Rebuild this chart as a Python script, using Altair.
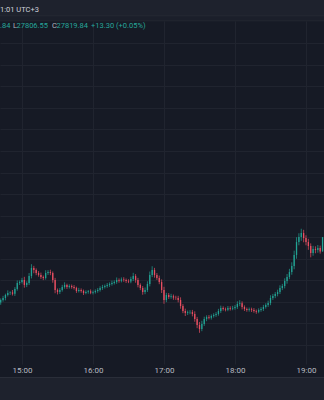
import altair as alt
import pandas as pd

# ---- data (2-minute candles) ----
closes = [
    27761.4, 27763.3, 27766.1, 27767.9, 27768.5, 27767.2, 27771.6, 27777.2, 27778.1, 27780.0,
    27775.4, 27777.2, 27783.7, 27791.2, 27789.3, 27786.5, 27784.7, 27782.8, 27781.9, 27786.5,
    27787.4, 27786.5, 27780.0, 27770.7, 27768.8, 27770.7, 27773.5, 27775.4, 27773.5, 27774.4,
    27773.5, 27772.6, 27769.8, 27770.7, 27769.8, 27767.9, 27768.8, 27769.5, 27768.2, 27768.8,
    27769.8, 27770.7, 27772.6, 27773.5, 27774.4, 27775.4, 27776.3, 27777.2, 27778.1, 27780.0,
    27779.3, 27780.6, 27780.0, 27779.1, 27778.6, 27780.9, 27783.7, 27780.0, 27775.4, 27772.6,
    27768.8, 27770.7, 27776.3, 27784.7, 27789.3, 27784.7, 27781.9, 27778.1, 27770.7, 27761.4,
    27766.1, 27764.2, 27765.0, 27763.6, 27763.3, 27761.4, 27755.8, 27751.2, 27749.3, 27750.0,
    27750.2, 27748.4, 27743.7, 27738.2, 27734.4, 27739.1, 27743.7, 27745.6, 27745.0, 27746.5,
    27747.5, 27748.4, 27751.2, 27754.0, 27753.0, 27752.4, 27754.0, 27753.4, 27754.0, 27754.9,
    27757.7, 27758.4, 27754.9, 27753.0, 27752.1, 27752.8, 27752.1, 27751.2, 27750.6, 27752.1,
    27753.0, 27754.9, 27756.8, 27758.6, 27763.3, 27765.1, 27767.0, 27768.8, 27772.6, 27774.4,
    27779.1, 27782.8, 27787.4, 27793.0, 27803.3, 27815.3, 27820.0, 27823.7, 27819.1, 27815.3,
    27811.6, 27805.1, 27808.8, 27807.9, 27809.8, 27806.54, 27819.84,
]
wick_up = [
    1.5, 2.0, 1.2, 2.5, 1.0, 2.2, 1.8, 2.4, 1.5, 2.0,
    3.0, 1.6, 2.8, 3.5, 2.0, 1.5, 1.8, 2.2, 1.4, 2.6,
    1.8, 2.2, 1.5, 2.0, 1.4, 1.8, 2.0, 2.5, 1.2, 1.6,
    1.4, 1.8, 1.2, 2.0, 1.5, 1.3, 1.6, 1.2, 1.8, 1.4,
    1.5, 1.8, 1.6, 2.0, 1.4, 1.8, 1.5, 2.2, 1.6, 2.4,
    1.5, 1.8, 2.0, 1.4, 1.6, 2.2, 3.0, 1.8, 2.0, 1.5,
    1.8, 2.4, 2.5, 3.2, 3.5, 2.0, 1.8, 2.2, 2.5, 3.0,
    2.0, 1.8, 2.2, 1.5, 1.8, 2.0, 2.5, 1.8, 2.2, 1.6,
    1.8, 2.0, 2.5, 2.0, 2.8, 3.0, 2.2, 1.6, 1.8, 1.5,
    1.6, 1.8, 2.0, 2.2, 1.5, 1.4, 1.8, 1.6, 2.0, 1.8,
    2.5, 2.8, 1.8, 1.5, 1.4, 1.6, 1.5, 1.8, 1.4, 1.6,
    1.8, 2.0, 1.6, 2.2, 2.5, 2.0, 1.8, 2.2, 2.5, 2.0,
    2.5, 2.8, 3.0, 3.5, 4.0, 4.5, 3.5, 4.0, 3.0, 2.5,
    3.0, 2.5, 3.0, 2.5, 2.8, 2.2, 0.0,
]
wick_dn = [
    2.0, 1.5, 2.2, 1.4, 1.8, 1.6, 2.0, 1.5, 1.8, 1.4,
    2.5, 2.0, 1.8, 2.2, 3.0, 2.0, 1.6, 1.8, 2.0, 1.5,
    1.8, 2.0, 2.5, 3.0, 2.2, 1.8, 1.5, 1.6, 1.8, 1.4,
    1.6, 1.5, 1.8, 1.4, 1.6, 1.8, 1.2, 1.5, 1.4, 1.6,
    1.4, 1.6, 1.5, 1.8, 1.4, 1.6, 1.8, 1.5, 1.4, 1.6,
    1.8, 1.5, 1.6, 1.8, 1.5, 1.6, 1.8, 2.5, 2.2, 2.0,
    2.5, 2.0, 1.8, 2.2, 2.0, 2.5, 1.8, 2.0, 2.8, 3.5,
    2.0, 1.8, 1.6, 2.0, 1.8, 2.2, 2.5, 2.0, 2.8, 1.8,
    1.8, 2.2, 2.5, 3.0, 3.5, 2.0, 1.8, 2.0, 1.6, 1.8,
    1.5, 1.8, 1.6, 1.8, 1.5, 1.6, 1.4, 1.8, 1.5, 1.6,
    1.8, 2.0, 2.2, 1.8, 1.6, 1.5, 1.8, 1.6, 2.0, 1.5,
    1.6, 1.8, 1.5, 1.8, 2.0, 1.8, 2.0, 2.2, 1.8, 2.0,
    2.2, 2.5, 2.0, 2.5, 3.0, 3.5, 3.0, 3.5, 4.0, 3.0,
    3.5, 4.0, 2.5, 3.0, 2.5, 2.0, 0.0,
]
first_open = 27759.0
start_time = "2023-10-13 14:42:00"
grid_prices = [27720, 27740, 27760, 27780, 27800, 27820, 27840, 27860,
               27880, 27900, 27920, 27940, 27960, 27980, 28000]
hour_ticks = [15, 16, 17, 18, 19]
header_text = ["1:01 UTC+3"]
ohlc_labels = ["L", "C"]
ohlc_values = [".84", "27806.55", "27819.84", "+13.30 (+0.05%)"]

# ---- build table ----
n = len(closes)
times = pd.date_range(start_time, periods=n, freq="2min")
opens = [first_open] + closes[:-1]
df = pd.DataFrame({"time": times, "open": opens, "close": closes})
df["high"] = [max(o, c) + w for o, c, w in zip(opens, closes, wick_up)]
df["low"] = [min(o, c) - w for o, c, w in zip(opens, closes, wick_dn)]
df["dir"] = ["up" if c >= o else "down" for o, c in zip(opens, closes)]

UP, DOWN = "#22a394", "#e94f62"
TXT_UP = "#26a69a"
BG = "#161a25"
GRID = "#20242f"
FONT = "Roboto"

def dt(h, m=0, s=0):
    return alt.DateTime(year=2023, month=10, date=13, hours=h, minutes=m, seconds=s)

xscale = alt.Scale(domain=[dt(14, 41, 25), dt(19, 15, 13)], padding=0)
yscale = alt.Scale(domain=[27701.9, 28020.9], nice=False, zero=False, padding=0)
color = alt.Color("dir:N", scale=alt.Scale(domain=["up", "down"], range=[UP, DOWN]), legend=None)

xaxis = alt.Axis(values=[dt(h) for h in hour_ticks], format="%H:%M",
                 grid=True, gridColor=GRID, gridOpacity=1, domain=False, ticks=False,
                 labelColor="#b8bbc2", labelFontSize=8, labelFont=FONT,
                 labelPadding=6, labelBaseline="middle", title=None)
yaxis = alt.Axis(orient="right", values=grid_prices, labels=False, ticks=False,
                 domain=False, grid=True, gridColor=GRID, gridOpacity=1, title=None)

base = alt.Chart(df)

wicks = base.mark_rule(strokeWidth=0.7, clip=True).encode(
    x=alt.X("time:T", scale=xscale, axis=xaxis),
    y=alt.Y("low:Q", scale=yscale, axis=yaxis),
    y2="high:Q",
    color=color,
)

bodies = base.mark_bar(size=1.3, clip=True).encode(
    x=alt.X("time:T", scale=xscale, axis=xaxis),
    y=alt.Y("open:Q", scale=yscale, axis=yaxis),
    y2="close:Q",
    color=color,
)

one = pd.DataFrame({"k": [0]})

def band(y1, y2, fill):
    return alt.Chart(one).mark_rect(color=fill).encode(
        x=alt.value(0), x2=alt.value(324), y=alt.value(y1), y2=alt.value(y2))

header = band(-21, -5.5, "#1e222d")
header_line = band(-5.5, -4.5, "#2a2e39")
header_band2 = band(-4.5, -0.5, "#1b1f2a")
header_line2 = band(-0.5, 0.3, "#262a35")
bottom_line = band(356, 357, "#2a2e39")
bottom_band = band(357, 380, "#1e222d")

def txt(s, x, y, c, size=7.5):
    return alt.Chart(pd.DataFrame({"t": [s]})).mark_text(
        align="left", baseline="middle", font=FONT, fontSize=size, color=c
    ).encode(x=alt.value(x), y=alt.value(y), text="t:N")

texts = [
    txt(header_text[0], 0, -11.5, "#d1d4dc"),
    txt(ohlc_values[0], 0, 5, TXT_UP),
    txt(ohlc_labels[0], 13, 5, "#b2b5be"),
    txt(ohlc_values[1], 16.5, 5, TXT_UP),
    txt(ohlc_labels[1], 52, 5, "#b2b5be"),
    txt(ohlc_values[2], 56.5, 5, TXT_UP),
    txt(ohlc_values[3], 91, 5, TXT_UP),
]

chart = alt.layer(
    wicks, bodies,
    header, header_line, header_band2, header_line2, bottom_line, bottom_band,
    *texts
).properties(
    width=324, height=343,
    padding={"top": 21, "bottom": 36, "left": 0, "right": 0},
    autosize="none",
    background=BG,
).configure_view(stroke=None)

chart.save("out.html", embed_options={"renderer": "svg", "actions": False})
